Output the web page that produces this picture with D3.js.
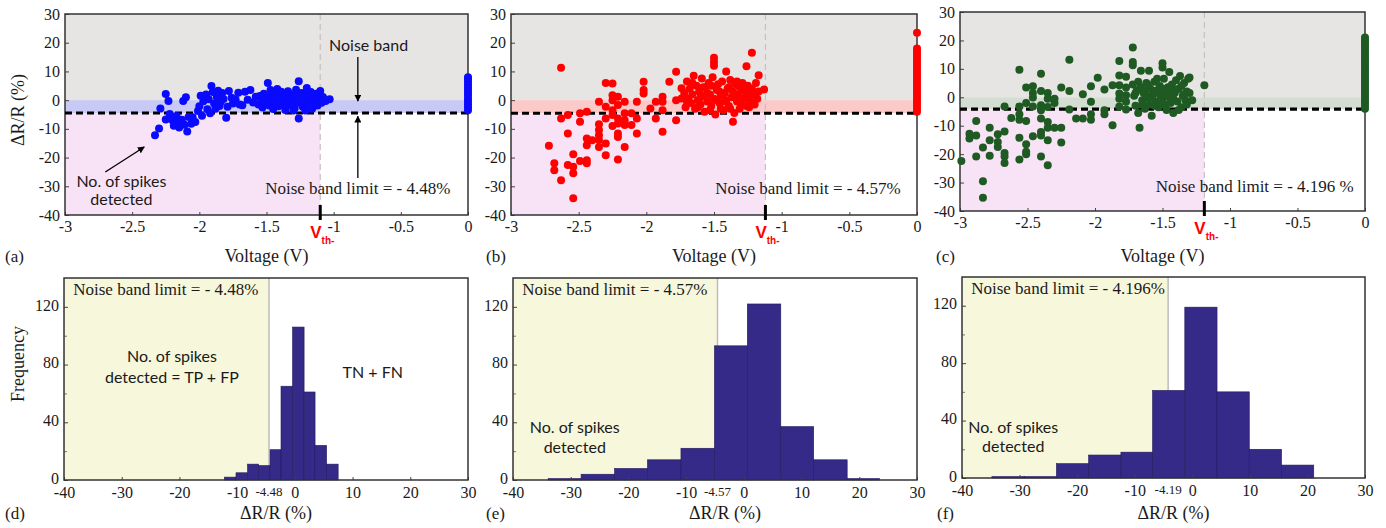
<!DOCTYPE html>
<html>
<head>
<meta charset="utf-8">
<script src="https://cdn.jsdelivr.net/npm/d3@7"></script>
<style>
  body { margin: 0; background: #fff; }
  svg { display: block; }
</style>
</head>
<body>
<div id="chart"></div>
<script>
// ---- data ----
var ticksVolt = [-3, -2.5, -2, -1.5, -1, -0.5, 0];
var ticksDR = [30, 20, 10, 0, -10, -20, -30, -40];
var ticksFreq = [0, 40, 80, 120];
var ticksHistX = [-40, -30, -20, -10, 0, 10, 20, 30];

var limits = [-4.48, -4.57, -4.196];
var limitLabels = ["- 4.48%", "- 4.57%", "- 4.196 %"];
var histLimitLabels = ["- 4.48%", "- 4.57%", "- 4.196%"];
var limitTicks = ["-4.48", "-4.57", "-4.19"];
var vthValues = [-1.10, -1.12, -1.19];

// (a) voltage vs dR/R, blue
var pointsA = [
  [-2.33,-12.2],[-2.30,-9.9],[-2.29,-2.9],[-2.25,2.1],[-2.25,-6.7],[-2.23,-0.3],[-2.22,-4.8],[-2.20,-7.0],
  [-2.19,-8.9],[-2.17,-5.5],[-2.16,-8.0],[-2.15,-9.5],[-2.13,-6.8],[-2.12,-0.3],[-2.11,-8.6],[-2.10,1.0],
  [-2.09,-10.9],[-2.08,-5.9],[-2.06,-8.2],[-2.05,-6.0],[-2.03,-7.6],[-2.01,-3.8],[-2.00,-2.1],[-1.99,1.5],
  [-1.98,-5.4],[-1.97,-0.4],[-1.95,2.0],[-1.94,-3.2],[-1.93,0.3],[-1.92,-4.6],[-1.91,4.9],[-1.90,2.8],
  [-1.89,-1.2],[-1.88,-3.0],[-1.87,1.1],[-1.86,3.3],[-1.85,-2.0],[-1.84,-0.6],[-1.83,2.5],[-1.82,0.4],
  [-1.80,-6.1],[-1.79,-2.3],[-1.78,3.2],[-1.76,0.8],[-1.75,-1.2],[-1.73,0.2],[-1.71,2.6],[-1.70,-1.5],
  [-1.68,-1.8],[-1.66,2.9],[-1.64,0.1],[-1.62,3.5],[-1.60,-0.8],[-1.58,1.2],
  [-1.56,-1.5],[-1.55,1.4],[-1.54,0.2],[-1.53,-2.6],[-1.52,2.2],[-1.51,-0.6],[-1.50,1.0],[-1.49,6.0],
  [-1.48,-1.9],[-1.47,0.5],[-1.46,2.6],[-1.45,-3.1],[-1.44,-0.9],[-1.43,1.7],[-1.42,3.9],[-1.41,-2.1],
  [-1.40,0.3],[-1.39,2.9],[-1.38,-1.3],[-1.37,1.2],[-1.36,-3.4],[-1.35,0.7],[-1.34,3.1],[-1.33,-1.8],
  [-1.32,2.0],[-1.31,-0.4],[-1.30,1.5],[-1.29,-2.7],[-1.28,3.6],[-1.27,-0.8],[-1.26,6.6],[-1.26,-6.4],
  [-1.25,0.9],[-1.24,2.5],[-1.23,-2.3],[-1.22,-0.1],[-1.21,1.9],[-1.20,4.2],[-1.19,-1.6],[-1.18,0.6],
  [-1.17,2.8],[-1.16,-3.0],[-1.15,-0.7],[-1.14,1.3],[-1.13,2.2],[-1.12,-1.9],[-1.11,0.2],[-1.10,3.2],
  [-1.09,-0.9],[-1.08,1.1],[-1.06,-0.3],[-1.03,0.3],
  [-1.50,-1.2],[-1.47,3.5],[-1.44,1.0],[-1.41,-0.3],[-1.38,1.8],[-1.35,-1.5],[-1.32,-0.9],[-1.30,-3.6],
  [-1.27,1.9],[-1.24,-0.5],[-1.21,-3.6],[-1.18,-2.4],[-1.15,2.0],[-1.12,0.4],[-1.40,2.1],[-1.33,0.0],
  [-1.28,0.8],[-1.22,1.2],[-1.46,0.0],[-1.36,1.4],
  [0,-3.5],[0,-2.5],[0,-1.5],[0,-0.5],[0,0.5],[0,1.5],[0,2.5],[0,3.5],[0,4.5],[0,5.5],[0,6.5],[0,7.5],[0,8.0]
];

// (b) voltage vs dR/R, red
var pointsB = [
  [-2.63,11.3],[-2.72,-15.9],[-2.68,-22.0],[-2.68,-24.4],[-2.63,-27.9],[-2.63,-6.4],[-2.58,-5.2],[-2.58,-11.6],
  [-2.58,-22.6],[-2.54,-18.8],[-2.54,-23.2],[-2.54,-25.5],[-2.54,-34.2],[-2.49,-4.6],[-2.49,-7.5],[-2.49,-21.2],
  [-2.44,-4.0],[-2.44,-13.4],[-2.44,-15.7],[-2.44,-20.9],[-2.44,-22.0],[-2.40,-14.0],[-2.35,-0.6],[-2.35,-8.4],
  [-2.35,-10.4],[-2.35,-12.2],[-2.35,-13.9],[-2.35,-16.3],[-2.30,6.0],[-2.30,-2.3],[-2.30,-6.4],[-2.30,-15.1],
  [-2.30,-19.2],[-2.25,5.8],[-2.25,1.7],[-2.25,0.0],[-2.25,-3.5],[-2.25,-5.2],[-2.25,-9.0],[-2.21,1.2],
  [-2.21,-1.7],[-2.21,-6.4],[-2.21,-8.1],[-2.21,-11.6],[-2.21,-12.8],[-2.21,-20.7],[-2.16,-0.6],[-2.16,-4.6],
  [-2.16,-7.0],[-2.16,-8.7],[-2.16,-16.3],[-2.11,-4.6],[-2.11,-8.7],[-2.07,-0.6],[-2.07,-6.4],[-2.07,-11.6],
  [-2.02,6.4],[-2.02,3.5],[-2.02,2.3],[-1.97,-2.9],[-1.93,-0.6],[-1.93,-6.4],[-1.88,1.2],[-1.88,-0.6],
  [-1.88,-3.5],[-1.88,-11.0],[-1.83,6.4],[-1.78,9.9],[-1.78,0.0],[-1.78,-7.0],[-1.74,4.1],[-1.74,0.6],
  [-1.72,2.5],[-1.71,-2.5],[-1.70,6.5],[-1.69,0.5],[-1.68,4.0],[-1.67,-1.0],[-1.66,2.0],[-1.65,8.5],
  [-1.64,-3.0],[-1.63,5.0],[-1.62,0.0],[-1.61,3.0],[-1.60,-1.5],[-1.59,7.5],[-1.58,1.5],[-1.57,-4.0],
  [-1.56,4.5],[-1.55,-0.5],[-1.54,6.0],[-1.53,2.0],[-1.52,-2.0],[-1.51,8.0],[-1.50,0.5],[-1.50,14.8],
  [-1.50,13.3],[-1.50,12.0],[-1.49,-5.0],[-1.48,3.5],[-1.47,5.5],[-1.46,-1.0],[-1.45,1.5],[-1.44,6.5],
  [-1.43,-3.5],[-1.42,2.5],[-1.41,10.0],[-1.41,0.0],[-1.40,4.0],[-1.39,-2.0],[-1.38,7.0],[-1.37,1.0],
  [-1.36,-7.5],[-1.36,3.0],[-1.35,-4.5],[-1.34,5.5],[-1.33,-0.5],[-1.32,2.0],[-1.31,4.5],[-1.30,-1.5],
  [-1.29,6.0],[-1.28,0.5],[-1.27,3.0],[-1.26,11.8],[-1.26,-2.0],[-1.25,5.0],[-1.24,1.5],[-1.23,-0.5],
  [-1.22,16.5],[-1.22,4.0],[-1.21,2.0],[-1.20,-1.5],[-1.19,6.0],[-1.18,0.5],[-1.17,8.7],[-1.17,3.0],
  [-1.13,3.7],
  [-1.70,-0.5],[-1.66,6.0],[-1.62,-2.5],[-1.58,4.5],[-1.55,2.5],[-1.52,5.0],[-1.48,0.0],[-1.45,-3.0],
  [-1.42,-0.5],[-1.39,4.5],[-1.35,1.5],[-1.31,-3.0],[-1.28,3.5],[-1.24,-2.5],[-1.20,2.5],[-1.60,1.0],
  [-1.53,-3.5],[-1.46,3.0],[-1.38,-3.0],[-1.33,6.5],
  [0,-4],[0,-3],[0,-2],[0,-1],[0,0],[0,1],[0,2],[0,3],[0,4],[0,5],[0,6],[0,7],[0,8],[0,9],[0,10],
  [0,11],[0,12],[0,13],[0,14],[0,15],[0,16],[0,17],[0,18],[0,23.5]
];

// (c) voltage vs dR/R, green
var pointsC = [
  [-2.99,-22.4],[-2.93,-12.8],[-2.93,-14.5],[-2.88,-8.3],[-2.88,-13.4],[-2.88,-20.8],[-2.83,-17.7],[-2.83,-29.5],
  [-2.83,-35.3],[-2.78,-10.7],[-2.78,-15.1],[-2.78,-20.6],[-2.72,-13.0],[-2.72,-15.7],[-2.72,-17.5],[-2.67,-3.2],
  [-2.67,-12.0],[-2.67,-19.6],[-2.67,-20.8],[-2.67,-23.1],[-2.62,-7.3],[-2.56,9.7],[-2.56,-3.2],[-2.56,-6.0],
  [-2.56,-7.9],[-2.56,-14.2],[-2.56,-21.9],[-2.51,3.4],[-2.51,-2.0],[-2.51,-8.3],[-2.51,-16.5],[-2.51,-19.2],
  [-2.51,-20.0],[-2.46,3.9],[-2.46,1.5],[-2.46,-0.1],[-2.46,-3.2],[-2.46,-13.7],[-2.40,8.3],[-2.40,2.2],
  [-2.40,-2.8],[-2.40,-4.6],[-2.40,-7.5],[-2.40,-12.2],[-2.40,-13.4],[-2.40,-20.8],[-2.35,1.5],[-2.35,-0.5],
  [-2.35,-3.4],[-2.35,-8.7],[-2.35,-10.7],[-2.35,-15.1],[-2.35,-23.9],[-2.30,-0.5],[-2.30,-2.0],[-2.30,-10.7],
  [-2.25,3.4],[-2.25,-10.7],[-2.25,-15.9],[-2.19,13.2],[-2.19,2.2],[-2.19,-4.3],[-2.14,-7.5],[-2.09,1.1],
  [-2.09,-7.5],[-2.03,3.9],[-2.03,-1.6],[-2.03,-6.0],[-2.03,-7.9],[-1.98,6.9],[-1.93,2.7],[-1.93,-4.6],
  [-1.93,-6.0],[-1.87,4.2],[-1.87,-9.8],[-1.82,12.8],[-1.82,7.7],[-1.82,4.2],[-1.82,1.3],[-1.82,-0.5],
  [-1.82,-3.2],[-1.77,7.2],[-1.77,3.4],[-1.77,0.7],[-1.77,-1.6],[-1.77,-4.3],
  [-1.72,17.5],[-1.72,12.4],[-1.72,11.3],[-1.72,4.5],[-1.71,0.5],[-1.70,-3.0],[-1.69,2.5],[-1.68,-5.5],
  [-1.67,-10.7],[-1.66,9.3],[-1.66,3.5],[-1.65,-1.0],[-1.64,1.5],[-1.63,-4.0],[-1.62,5.0],[-1.61,0.0],
  [-1.60,9.3],[-1.60,-2.5],[-1.59,3.0],[-1.58,-6.5],[-1.57,1.0],[-1.56,5.5],[-1.55,-1.5],[-1.54,2.5],
  [-1.53,-3.5],[-1.52,4.0],[-1.51,0.5],[-1.50,12.0],[-1.50,10.5],[-1.50,-0.5],[-1.49,6.5],[-1.48,2.0],
  [-1.47,-4.5],[-1.46,3.5],[-1.45,8.9],[-1.45,0.0],[-1.44,-2.0],[-1.43,4.5],[-1.42,-5.5],[-1.41,1.5],
  [-1.40,6.0],[-1.39,-1.5],[-1.38,3.0],[-1.37,7.5],[-1.36,-3.5],[-1.35,0.5],[-1.34,5.0],[-1.33,-1.0],
  [-1.32,2.0],[-1.31,6.5],[-1.30,7.0],[-1.30,1.5],[-1.28,-1.0],[-1.19,4.2],
  [-1.70,1.5],[-1.68,5.5],[-1.65,-2.5],[-1.63,2.0],[-1.61,4.5],[-1.58,0.0],[-1.56,-3.0],[-1.54,6.5],
  [-1.52,-1.5],[-1.50,3.0],[-1.48,-2.5],[-1.46,0.5],[-1.44,2.5],[-1.42,-0.5],[-1.40,2.5],[-1.38,-4.5],
  [-1.36,4.0],[-1.34,1.0],[-1.32,-2.5],[-1.56,2.0],[-1.62,0.5],[-1.52,1.0],
  [0,-4],[0,-3],[0,-2],[0,-1],[0,0],[0,1],[0,2],[0,3],[0,4],[0,5],[0,6],[0,7],[0,8],[0,9],[0,10],
  [0,11],[0,12],[0,13],[0,14],[0,15],[0,16],[0,17],[0,18],[0,19],[0,20],[0,21]
];

// (d)-(f) histogram bin edges and counts
var edgesD = [-12.2, -10.2, -8.2, -6.3, -4.3, -2.4, -0.4, 1.6, 3.5, 5.5, 7.5];
var countsD = [2, 5, 11, 10, 21, 65, 106, 61, 24, 11];
var edgesE = [-33.9, -28.2, -22.4, -16.7, -10.9, -5.1, 0.6, 6.4, 12.1, 17.9, 23.5];
var countsE = [1, 4, 8, 14, 22, 93, 122, 37, 14, 1];
var edgesF = [-34.8, -29.2, -23.6, -18.0, -12.4, -6.9, -1.3, 4.3, 9.9, 15.5, 21.1];
var countsF = [1, 1, 10, 16, 18, 61, 119, 60, 20, 9];

// ---- drawing ----
var SERIF = "'Liberation Serif', 'Times New Roman', serif";
var SANS = "Lato, 'Open Sans', sans-serif";

var svg = d3.select("#chart").append("svg")
  .attr("width", 1386)
  .attr("height", 528);

svg.append("defs").append("marker")
  .attr("id", "arrow")
  .attr("viewBox", "0 0 10 10")
  .attr("refX", 9).attr("refY", 5)
  .attr("markerWidth", 7).attr("markerHeight", 7)
  .attr("markerUnits", "userSpaceOnUse")
  .attr("orient", "auto")
  .append("path")
  .attr("d", "M0,0 L10,5 L0,10 z")
  .attr("fill", "#000");

function styleAxis(g, size) {
  g.attr("font-family", SERIF);
  g.select(".domain").remove();
  g.selectAll(".tick line").attr("stroke", "#444").attr("stroke-width", 1);
  g.selectAll(".tick text")
    .attr("font-family", SERIF)
    .attr("font-size", size || 16)
    .attr("fill", "#1a1a1a");
}

function drawScatter(p) {
  var x = d3.scaleLinear().domain([-3, 0]).range([p.left, p.right]);
  var y = d3.scaleLinear().domain([-40, 30]).range([p.bottom, p.top]);
  var g = svg.append("g");

  // background zones
  g.append("rect").attr("x", x(-3)).attr("y", y(30))
    .attr("width", x(0) - x(-3)).attr("height", y(0) - y(30))
    .attr("fill", "#e6e5e4");
  g.append("rect").attr("x", x(-3)).attr("y", y(0))
    .attr("width", x(0) - x(-3)).attr("height", y(p.limit) - y(0))
    .attr("fill", p.band);
  g.append("rect").attr("x", x(-3)).attr("y", y(p.limit))
    .attr("width", x(p.vth) - x(-3)).attr("height", y(-40) - y(p.limit))
    .attr("fill", "#f8e3f6");

  // threshold voltage guide
  g.append("line")
    .attr("x1", x(p.vth)).attr("x2", x(p.vth))
    .attr("y1", y(30)).attr("y2", y(-40))
    .attr("stroke", "#c9bfbf").attr("stroke-width", 1.2)
    .attr("stroke-dasharray", "6,4");

  // ticks
  var ax = g.append("g").attr("transform", "translate(0," + p.bottom + ")")
    .call(d3.axisBottom(x).tickValues(ticksVolt).tickSize(-3).tickPadding(6).tickFormat(function (d) { return String(d); }));
  styleAxis(ax);
  var ay = g.append("g").attr("transform", "translate(" + p.left + ",0)")
    .call(d3.axisLeft(y).tickValues(ticksDR).tickSize(-4).tickPadding(5).tickFormat(function (d) { return String(d); }));
  styleAxis(ay);

  g.append("rect").attr("x", p.left).attr("y", p.top)
    .attr("width", p.right - p.left).attr("height", p.bottom - p.top)
    .attr("fill", "none").attr("stroke", "#333").attr("stroke-width", 1.5);

  // noise band limit line
  g.append("line")
    .attr("x1", x(-3)).attr("x2", x(0))
    .attr("y1", y(p.limit)).attr("y2", y(p.limit))
    .attr("stroke", "#000").attr("stroke-width", 3.2)
    .attr("stroke-dasharray", "7,4");

  g.selectAll("circle.pt")
    .data(p.points)
    .enter().append("circle")
    .attr("class", "pt")
    .attr("cx", function (d) { return x(d[0]); })
    .attr("cy", function (d) { return y(d[1]); })
    .attr("r", 4)
    .attr("fill", p.color);

  // Vth marker
  g.append("line")
    .attr("x1", x(p.vth)).attr("x2", x(p.vth))
    .attr("y1", p.bottom - 10).attr("y2", p.bottom + 5)
    .attr("stroke", "#000").attr("stroke-width", 3);
  var vt = g.append("text")
    .attr("x", x(p.vth) - 10).attr("y", p.bottom + 23)
    .attr("font-family", "'Liberation Sans', Arial, sans-serif")
    .attr("font-weight", "bold").attr("font-size", 17)
    .attr("fill", "#ff0000");
  vt.append("tspan").text("V");
  vt.append("tspan").attr("dy", 6).attr("font-size", 10).text("th-");

  g.append("text")
    .attr("x", x(p.limitAt[0])).attr("y", y(p.limitAt[1]))
    .attr("font-family", SERIF).attr("font-size", 17)
    .attr("fill", "#1a1a1a")
    .text("Noise band limit = " + p.limitText);

  g.append("text")
    .attr("x", (p.left + p.right) / 2).attr("y", 262)
    .attr("text-anchor", "middle")
    .attr("font-family", SERIF).attr("font-size", 18)
    .attr("fill", "#1a1a1a")
    .text("Voltage (V)");

  g.append("text")
    .attr("x", p.tagX).attr("y", 262)
    .attr("font-family", SERIF).attr("font-size", 17)
    .attr("fill", "#1a1a1a")
    .text(p.tag);

  return { g: g, x: x, y: y };
}

function drawHist(p) {
  var x = d3.scaleLinear().domain([-40, 30]).range([p.left, p.right]);
  var y = d3.scaleLinear().domain([0, 140]).range([p.bottom, p.top]);
  var g = svg.append("g");

  g.append("rect").attr("x", x(-40)).attr("y", p.top)
    .attr("width", x(p.limit) - x(-40)).attr("height", p.bottom - p.top)
    .attr("fill", "#f7f7dc");
  g.append("line")
    .attr("x1", x(p.limit)).attr("x2", x(p.limit))
    .attr("y1", p.top).attr("y2", p.bottom)
    .attr("stroke", "#bdbdbd").attr("stroke-width", 1.5);

  var bins = p.counts.map(function (c, i) { return { x0: p.edges[i], x1: p.edges[i + 1], n: c }; });
  g.selectAll("rect.bar")
    .data(bins)
    .enter().append("rect")
    .attr("class", "bar")
    .attr("x", function (d) { return x(d.x0); })
    .attr("width", function (d) { return x(d.x1) - x(d.x0); })
    .attr("y", function (d) { return y(d.n); })
    .attr("height", function (d) { return y(0) - y(d.n); })
    .attr("fill", "#352a87")
    .attr("stroke", "#231a5e").attr("stroke-width", 0.6);

  var ax = g.append("g").attr("transform", "translate(0," + p.bottom + ")")
    .call(d3.axisBottom(x).tickValues(ticksHistX).tickSize(-3).tickPadding(7).tickFormat(function (d) { return String(d); }));
  styleAxis(ax);
  var ay = g.append("g").attr("transform", "translate(" + p.left + ",0)")
    .call(d3.axisLeft(y).tickValues(ticksFreq).tickSize(-4).tickPadding(5).tickFormat(function (d) { return String(d); }));
  styleAxis(ay);
  ay.selectAll(".tick text").attr("dy", "0.2em");
  g.append("g").attr("transform", "translate(" + p.left + ",0)")
    .call(d3.axisLeft(y).tickValues([20, 60, 100]).tickSize(-3).tickFormat(""))
    .call(function (s) { s.select(".domain").remove(); s.selectAll("line").attr("stroke", "#777"); });

  g.append("rect").attr("x", p.left).attr("y", p.top)
    .attr("width", p.right - p.left).attr("height", p.bottom - p.top)
    .attr("fill", "none").attr("stroke", "#333").attr("stroke-width", 1.5);

  g.append("text")
    .attr("x", x(p.limit)).attr("y", p.bottom + 16)
    .attr("text-anchor", "middle")
    .attr("font-family", SERIF).attr("font-size", 13)
    .attr("fill", "#1a1a1a")
    .text(p.limitTick);

  g.append("text")
    .attr("x", x(-38.4)).attr("y", y(128.5))
    .attr("font-family", SERIF).attr("font-size", 17)
    .attr("fill", "#1a1a1a")
    .text("Noise band limit = " + p.limitText);

  p.notes.forEach(function (n) {
    g.append("text")
      .attr("x", x(n[0])).attr("y", y(n[1]))
      .attr("text-anchor", "middle")
      .attr("font-family", SANS).attr("font-size", 16)
      .attr("fill", "#1a1a1a")
      .text(n[2]);
  });

  g.append("text")
    .attr("x", (p.left + p.right) / 2 + 10).attr("y", 519)
    .attr("text-anchor", "middle")
    .attr("font-family", SERIF).attr("font-size", 18)
    .attr("fill", "#1a1a1a")
    .text("ΔR/R (%)");

  g.append("text")
    .attr("x", p.tagX).attr("y", 519)
    .attr("font-family", SERIF).attr("font-size", 17)
    .attr("fill", "#1a1a1a")
    .text(p.tag);

  return g;
}

var a = drawScatter({ left: 65, right: 468, top: 14, bottom: 215, points: pointsA, color: "#0a0aff",
  band: "#c9c9f6", limit: limits[0], vth: vthValues[0], limitText: limitLabels[0], limitAt: [-1.51, -32.7],
  tag: "(a)", tagX: 5 });
drawScatter({ left: 511, right: 917, top: 14, bottom: 215, points: pointsB, color: "#ff0000",
  band: "#fcc9c9", limit: limits[1], vth: vthValues[1], limitText: limitLabels[1], limitAt: [-1.49, -32.7],
  tag: "(b)", tagX: 486 });
drawScatter({ left: 960, right: 1365, top: 12, bottom: 211, points: pointsC, color: "#1e5a22",
  band: "#d3ddd2", limit: limits[2], vth: vthValues[2], limitText: limitLabels[2], limitAt: [-1.55, -33.3],
  tag: "(c)", tagX: 936 });

// annotations on (a)
a.g.append("text")
  .attr("x", a.x(-0.74)).attr("y", a.y(17.2))
  .attr("text-anchor", "middle")
  .attr("font-family", SANS).attr("font-size", 16).attr("fill", "#1a1a1a")
  .text("Noise band");
a.g.append("line")
  .attr("x1", a.x(-0.82)).attr("x2", a.x(-0.82))
  .attr("y1", a.y(15.0)).attr("y2", a.y(-0.3))
  .attr("stroke", "#000").attr("stroke-width", 1.3).attr("marker-end", "url(#arrow)");
a.g.append("line")
  .attr("x1", a.x(-0.82)).attr("x2", a.x(-0.82))
  .attr("y1", a.y(-27.1)).attr("y2", a.y(-5.6))
  .attr("stroke", "#000").attr("stroke-width", 1.3).attr("marker-end", "url(#arrow)");
a.g.append("line")
  .attr("x1", a.x(-2.70)).attr("x2", a.x(-2.41))
  .attr("y1", a.y(-25.0)).attr("y2", a.y(-16.3))
  .attr("stroke", "#000").attr("stroke-width", 1.3).attr("marker-end", "url(#arrow)");
a.g.append("text")
  .attr("x", a.x(-2.58)).attr("y", a.y(-30.3))
  .attr("text-anchor", "middle")
  .attr("font-family", SANS).attr("font-size", 16).attr("fill", "#1a1a1a")
  .text("No. of spikes");
a.g.append("text")
  .attr("x", a.x(-2.58)).attr("y", a.y(-36.6))
  .attr("text-anchor", "middle")
  .attr("font-family", SANS).attr("font-size", 16).attr("fill", "#1a1a1a")
  .text("detected");

drawHist({ left: 64, right: 468, top: 278, bottom: 480, edges: edgesD, counts: countsD,
  limit: limits[0], limitTick: limitTicks[0], limitText: histLimitLabels[0], tag: "(d)", tagX: 5,
  notes: [[-21.3, 81.8, "No. of spikes"], [-21.3, 67.2, "detected = TP + FP"], [13.5, 70.7, "TN + FN"]] });
drawHist({ left: 513, right: 917, top: 278, bottom: 480, edges: edgesE, counts: countsE,
  limit: limits[1], limitTick: limitTicks[1], limitText: histLimitLabels[1], tag: "(e)", tagX: 486,
  notes: [[-29.3, 32.6, "No. of spikes"], [-29.3, 18.7, "detected"]] });
drawHist({ left: 962, right: 1365, top: 277, bottom: 478, edges: edgesF, counts: countsF,
  limit: limits[2], limitTick: limitTicks[2], limitText: histLimitLabels[2], tag: "(f)", tagX: 937,
  notes: [[-31.1, 31.3, "No. of spikes"], [-31.1, 18.1, "detected"]] });

// shared y titles
svg.append("text")
  .attr("transform", "translate(24,110) rotate(-90)")
  .attr("text-anchor", "middle")
  .attr("font-family", SERIF).attr("font-size", 18).attr("fill", "#1a1a1a")
  .text("ΔR/R (%)");
svg.append("text")
  .attr("transform", "translate(24,364) rotate(-90)")
  .attr("text-anchor", "middle")
  .attr("font-family", SERIF).attr("font-size", 18).attr("fill", "#1a1a1a")
  .text("Frequency");
</script>
</body>
</html>
